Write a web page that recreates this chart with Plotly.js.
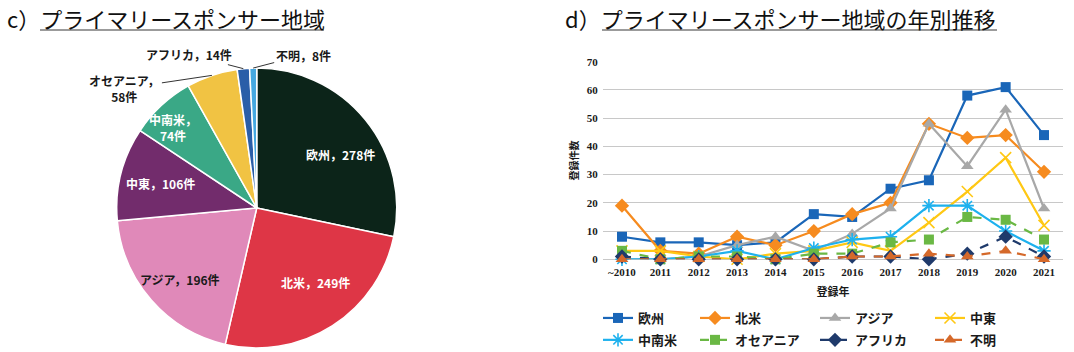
<!DOCTYPE html>
<html><head><meta charset="utf-8">
<script src="https://cdn.plot.ly/plotly-3.0.1.min.js"></script>
<style>html,body{margin:0;padding:0;background:#fff}#chart{width:1074px;height:352px}</style>
</head><body><div id="chart"></div>
<script>
// ---- data ----
const regions = ['欧州','北米','アジア','中東','中南米','オセアニア','アフリカ','不明'];
const totals = [278,249,196,106,74,58,14,8];
const years = ['~2010','2011','2012','2013','2014','2015','2016','2017','2018','2019','2020','2021'];
const europe       = [8,6,6,5,6,16,15,25,28,58,61,44];
const northAmerica = [19,3,2,8,5,10,16,20,48,43,44,31];
const asia         = [0,0,1,5,8,3,9,18,48,33,53,18];
const middleEast   = [3,3,1,0,2,3,6,3,13,24,36,12];
const latinAmerica = [0,0,1,3,0,4,7,8,19,19,10,3];
const oceania      = [3,0,1,1,0,2,2,6,7,15,14,7];
const africa       = [1,0,0,0,0,0,1,1,0,2,8,1];
const unknown      = [0,0,0,0,0,0,1,1,2,1,3,0];

// ---- styles ----
const W = 1074, H = 352;
const CJK = '"Noto Sans CJK JP", "Noto Sans", sans-serif';
const NUM = '"Liberation Serif", "DejaVu Serif", serif';
const pieColors = ['#0c2419','#de3646','#e089b9','#722c6c','#3aa886','#f1c343','#2a5ea8','#46a8e0'];
const pieDom = {x:[0.1087,0.3694], y:[0.01136,0.8068]};

const lineSeries = [
  {name:'欧州',     y:europe,       color:'#1a66b8', symbol:'square',      size:10, dash:'solid', legend:'legend'},
  {name:'北米',     y:northAmerica, color:'#f68b1f', symbol:'diamond',     size:11, dash:'solid', legend:'legend2'},
  {name:'アジア',   y:asia,         color:'#a8a8a8', symbol:'triangle-up', size:11, dash:'solid', legend:'legend3'},
  {name:'中東',     y:middleEast,   color:'#ffc814', symbol:'x-thin',      size:11, dash:'solid', legend:'legend4'},
  {name:'中南米',   y:latinAmerica, color:'#1eb1ee', symbol:'asterisk',    size:11, dash:'solid', legend:'legend'},
  {name:'オセアニア', y:oceania,    color:'#6ab844', symbol:'square',      size:10, dash:'dash',  legend:'legend2'},
  {name:'アフリカ', y:africa,       color:'#1f3a6b', symbol:'diamond',     size:11, dash:'dash',  legend:'legend3'},
  {name:'不明',     y:unknown,      color:'#d5692a', symbol:'triangle-up', size:11, dash:'dash',  legend:'legend4'}
];

const traces = [];
traces.push({
  type:'pie', labels:regions, values:totals, sort:false, direction:'clockwise', rotation:0,
  domain:pieDom, marker:{colors:pieColors, line:{color:'#ffffff', width:1.5}},
  textinfo:'none', hoverinfo:'label+value', showlegend:false
});
lineSeries.forEach((s,i)=>{
  const open = (s.symbol==='x-thin'||s.symbol==='asterisk');
  traces.push({
    type:'scatter', mode:'lines+markers', x:years, y:s.y, name:s.name,
    xaxis:'x', yaxis:'y', legend:s.legend, legendgroup:'g'+i, cliponaxis:false,
    line:{color:s.color, width:2.2, dash:s.dash},
    marker:{symbol:s.symbol, size:s.size, color:s.color, line:{color:s.color, width:open?1.6:0}}
  });
});

// ---- pie label annotations computed from slice angles ----
const cx = (pieDom.x[0]+pieDom.x[1])/2*W;
const cy = (1-(pieDom.y[0]+pieDom.y[1])/2)*H;
const R = Math.min((pieDom.x[1]-pieDom.x[0])*W, (pieDom.y[1]-pieDom.y[0])*H)/2;
const sum = totals.reduce((a,b)=>a+b,0);
let cum = 0;
const midAngles = totals.map(v=>{ const m=(cum+v/2)/sum*360; cum+=v; return m; });
function pt(angleDeg, rf){
  const a = angleDeg*Math.PI/180;
  return {x:(cx + rf*R*Math.sin(a))/W, y:1-(cy - rf*R*Math.cos(a))/H};
}
const insideCfg = [
  {rf:0.71, dA:6.8,  color:'#ffffff', br:false},
  {rf:0.68, dA:-5.6, color:'#ffffff', br:false},
  {rf:0.75, dA:-2,   color:'#1a1a1a', br:false},
  {rf:0.71, dA:0,    color:'#ffffff', br:false},
  {rf:0.83, dA:-3,   color:'#ffffff', br:true}
];
const outsideCfg = {5:{ax:-87, ay:13, br:true}, 6:{ax:-54, ay:-14, br:false}, 7:{ax:50, ay:-13, br:false}};
const annotations = [];
regions.forEach((r,i)=>{
  if (i < 5) {
    const c = insideCfg[i];
    const p = pt(midAngles[i]+c.dA, c.rf);
    annotations.push({xref:'paper', yref:'paper', x:p.x, y:p.y, xanchor:'center', yanchor:'middle', showarrow:false,
      text: r + '，' + (c.br?'<br>':'') + totals[i] + '件',
      font:{family:CJK, size:12, color:c.color, weight:'bold'}});
  } else {
    const c = outsideCfg[i];
    const p = pt(midAngles[i], 1.0);
    annotations.push({xref:'paper', yref:'paper', x:p.x, y:p.y, xanchor:'center', yanchor:'middle', showarrow:true,
      arrowhead:0, arrowwidth:1, arrowcolor:'#333333', ax:c.ax, ay:c.ay, standoff:0,
      text: r + '，' + (c.br?'<br>':'') + totals[i] + '件',
      font:{family:CJK, size:12, color:'#1a1a1a', weight:'bold'}});
  }
});
// titles
annotations.push({xref:'paper', yref:'paper', x:5/W, y:1-18/H, xanchor:'left', yanchor:'middle', showarrow:false,
  text:'c）プライマリースポンサー地域', font:{family:CJK, size:22, color:'#111111'}});
annotations.push({xref:'paper', yref:'paper', x:563/W, y:1-18/H, xanchor:'left', yanchor:'middle', showarrow:false,
  text:'d）プライマリースポンサー地域の年別推移', font:{family:CJK, size:22, color:'#111111'}});

const shapes = [
  {type:'line', xref:'paper', yref:'paper', x0:40/W, x1:324/W, y0:1-30/H, y1:1-30/H, line:{color:'#7a7a7a', width:1.5}},
  {type:'line', xref:'paper', yref:'paper', x0:602/W, x1:997/W, y0:1-30/H, y1:1-30/H, line:{color:'#7a7a7a', width:1.5}}
];

const legendBase = {orientation:'v', yanchor:'top', y:1-303/H, xanchor:'left',
  font:{family:CJK, size:13, color:'#1a1a1a', weight:'bold'}, bgcolor:'rgba(0,0,0,0)',
  traceorder:'grouped', tracegroupgap:2, itemwidth:30};

const layout = {
  width:W, height:H, margin:{l:0,r:0,t:0,b:0, autoexpand:false}, paper_bgcolor:'#ffffff', plot_bgcolor:'#ffffff',
  showlegend:true,
  xaxis:{domain:[602.8/W, 1063.2/W], anchor:'y', type:'category', range:[-0.5, years.length-0.5],
    showgrid:false, zeroline:false, showline:false, ticks:'', automargin:false, ticklabelstandoff:5,
    tickfont:{family:NUM, size:11, color:'#1a1a1a', weight:'bold'},
    title:{text:'登録年', font:{family:CJK, size:11, color:'#1a1a1a', weight:'bold'}, standoff:11}},
  yaxis:{domain:[1-259.3/H, 1-61.7/H], anchor:'x', range:[0,70], dtick:10, showgrid:true, gridcolor:'#c8c8c8',
    gridwidth:1, zeroline:true, zerolinecolor:'#c8c8c8', zerolinewidth:1, showline:false, ticks:'',
    automargin:false, ticklabelstandoff:4,
    tickfont:{family:NUM, size:11, color:'#1a1a1a', weight:'bold'},
    title:{text:'登録件数', font:{family:CJK, size:10, color:'#1a1a1a', weight:'bold'}, standoff:6}},
  legend:  Object.assign({}, legendBase, {x:598/W}),
  legend2: Object.assign({}, legendBase, {x:695/W}),
  legend3: Object.assign({}, legendBase, {x:815/W}),
  legend4: Object.assign({}, legendBase, {x:930/W}),
  annotations:annotations, shapes:shapes
};
Plotly.newPlot('chart', traces, layout, {staticPlot:true, displayModeBar:false});
</script></body></html>
